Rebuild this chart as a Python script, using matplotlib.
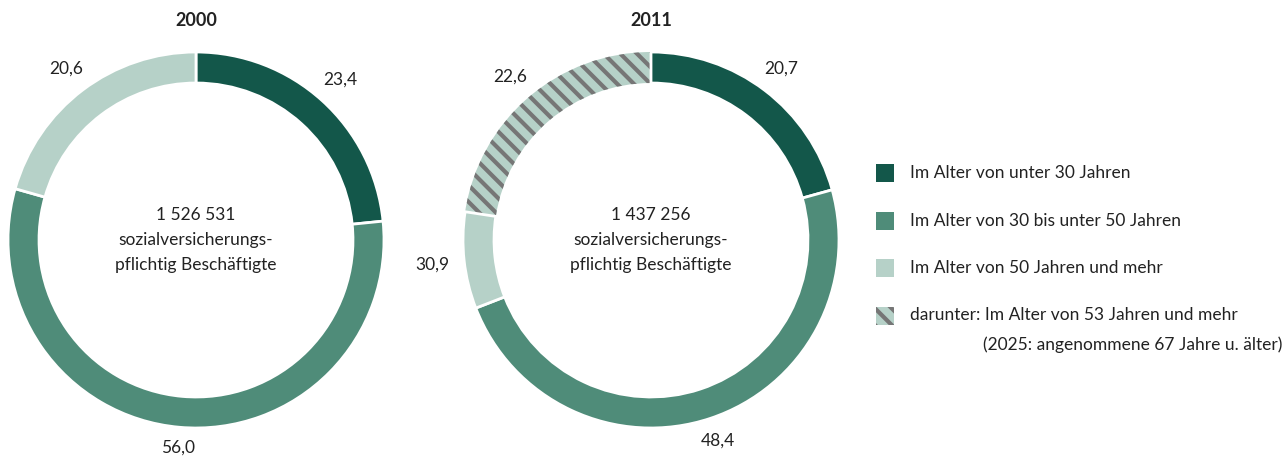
import matplotlib
matplotlib.use('Agg')
import matplotlib.pyplot as plt
from matplotlib.patches import Rectangle
import numpy as np

# Anteile der Altersgruppen an den sozialversicherungspflichtig Beschäftigten (in %)
jahre = ['2000', '2011']
beschaeftigte = ['1 526 531', '1 437 256']
anteile_2000 = [23.4, 56.0, 20.6]            # unter 30, 30 bis unter 50, 50 und mehr
anteile_2011 = [20.7, 48.4, 30.9]
darunter_53_2011 = 22.6                      # Teil der Gruppe 50 und mehr
legende = ['Im Alter von unter 30 Jahren',
           'Im Alter von 30 bis unter 50 Jahren',
           'Im Alter von 50 Jahren und mehr',
           'darunter: Im Alter von 53 Jahren und mehr']
legende_zusatz = '(2025: angenommene 67 Jahre u. älter)'

dunkel = '#13574a'
mittel = '#4f8c79'
hell = '#b6d1c8'
grau = '#767676'

plt.rcParams['font.family'] = ['Lato', 'DejaVu Sans']
plt.rcParams['hatch.linewidth'] = 3.0

W, H = 1283, 457
R = 188
CY = 240
fig = plt.figure(figsize=(W / 100, H / 100), dpi=100)


def fmt(v):
    return f'{v:.1f}'.replace('.', ',')


def donut(cx, werte, labels, farben, jahr, gesamt, schraffiert=None):
    ax = fig.add_axes([(cx - R) / W, (H - CY - R) / H, 2 * R / W, 2 * R / H])
    wedges, _ = ax.pie(werte, colors=farben, startangle=90, counterclock=False,
                       radius=1, wedgeprops=dict(width=0.165, edgecolor='white',
                                                 linewidth=2))
    if schraffiert is not None:
        w = wedges[schraffiert]
        w.set_hatch('\\\\')
        w.set_edgecolor(grau)
        w.set_linewidth(0)
        w.set_zorder(0.5)
    ax.set_xlim(-1, 1)
    ax.set_ylim(-1, 1)
    ax.axis('off')

    # Werte außen am Ring, seitlich etwas weiter weg wegen der Textbreite
    cum = np.cumsum([0] + list(werte[:-1]))
    for start, v, lab in zip(cum, werte, labels):
        theta = np.deg2rad(90 - (start + v / 2) * 360 / sum(werte))
        r = 1.10 + 0.07 * abs(np.cos(theta))
        ax.text(r * np.cos(theta), r * np.sin(theta), fmt(lab),
                ha='center', va='center', fontsize=12.5, color='#222222',
                clip_on=False)

    ax.text(0, 0, f'{gesamt}\nsozialversicherungs-\npflichtig Beschäftigte',
            ha='center', va='center', fontsize=12.5, linespacing=1.7,
            color='#222222')
    ax.text(0, 1.17, jahr, ha='center', va='center', fontsize=13,
            fontweight='bold', color='#222222', clip_on=False)


donut(196, anteile_2000, anteile_2000, [dunkel, mittel, hell],
      jahre[0], beschaeftigte[0])

werte_2011 = [anteile_2011[0], anteile_2011[1],
              anteile_2011[2] - darunter_53_2011, darunter_53_2011]
labels_2011 = [anteile_2011[0], anteile_2011[1], anteile_2011[2], darunter_53_2011]
donut(651, werte_2011, labels_2011, [dunkel, mittel, hell, hell],
      jahre[1], beschaeftigte[1], schraffiert=3)

# Legende
farben_leg = [dunkel, mittel, hell, hell]
for i, (text, farbe) in enumerate(zip(legende, farben_leg)):
    yc = 173 + i * 47.5
    rect = Rectangle((876 / W, (H - yc - 9) / H), 18 / W, 18 / H,
                     transform=fig.transFigure, facecolor=farbe, linewidth=0)
    if i == 3:
        rect.set_hatch('\\\\')
        rect.set_edgecolor(grau)
    fig.add_artist(rect)
    fig.text(910 / W, (H - yc) / H, text, ha='left', va='center',
             fontsize=12.5, color='#222222')
fig.text(1282 / W, (H - 345) / H, legende_zusatz, ha='right', va='center',
         fontsize=12.5, color='#222222')

fig.savefig('out.png', dpi=100, facecolor='white')
